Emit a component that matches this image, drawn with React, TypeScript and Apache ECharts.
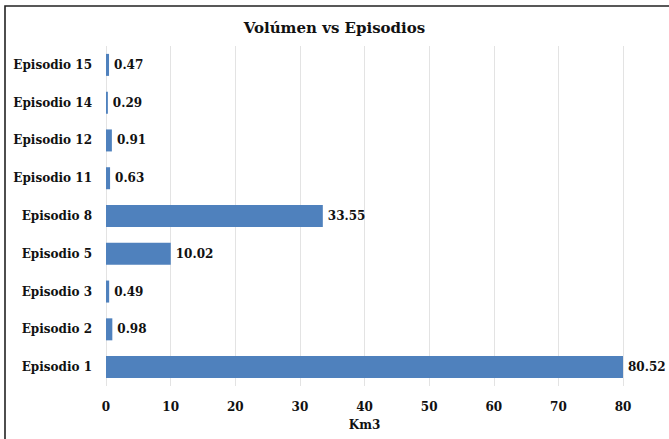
import React, { useEffect, useRef } from "react";
import * as echarts from "echarts";

const categories = ["Episodio 1", "Episodio 2", "Episodio 3", "Episodio 5", "Episodio 8", "Episodio 11", "Episodio 12", "Episodio 14", "Episodio 15"];
const values = [80.52, 0.98, 0.49, 10.02, 33.55, 0.63, 0.91, 0.29, 0.47];
const titleText = "Volúmen vs Episodios";
const axisName = "Km3";

const FONT = "'DejaVu Serif', 'Liberation Serif', serif";

export default function App() {
  const ref = useRef<HTMLDivElement>(null);
  useEffect(() => {
    document.body.style.margin = "0";
    const chart = echarts.init(ref.current!, undefined, { renderer: "svg" });
    chart.setOption({
      animation: false,
      backgroundColor: "#ffffff",
      title: {
        text: titleText,
        left: "center",
        top: 15,
        textStyle: { fontFamily: FONT, fontWeight: "bold", fontSize: 15, color: "#111" },
      },
      graphic: [
        {
          type: "rect",
          shape: { x: 5, y: 6, width: 700, height: 460 },
          style: { fill: "none", stroke: "#222", lineWidth: 1.6 },
          silent: true,
        },
      ],
      grid: { left: 106, right: 46, top: 46, bottom: 53, containLabel: false },
      xAxis: {
        type: "value",
        min: 0,
        max: 80,
        interval: 10,
        name: axisName,
        nameLocation: "middle",
        nameGap: 33,
        nameTextStyle: { fontFamily: FONT, fontWeight: "bold", fontSize: 12, color: "#111" },
        axisLine: { show: false },
        axisTick: { show: false },
        axisLabel: { fontFamily: FONT, fontWeight: "bold", fontSize: 12, color: "#111", margin: 15 },
        splitLine: { lineStyle: { color: "#e3e3e3", width: 1 } },
      },
      yAxis: {
        type: "category",
        data: categories,
        axisLine: { show: false },
        axisTick: { show: false },
        axisLabel: { fontFamily: FONT, fontWeight: "bold", fontSize: 12, color: "#111", margin: 14 },
      },
      series: [
        {
          type: "bar",
          data: values,
          barWidth: 22,
          itemStyle: { color: "#4F81BD" },
          label: {
            show: true,
            position: "right",
            distance: 5,
            fontFamily: FONT,
            fontWeight: "bold",
            fontSize: 12,
            color: "#111",
            formatter: (p: any) => p.value.toFixed(2),
          },
        },
      ],
    });
    return () => chart.dispose();
  }, []);
  return <div ref={ref} style={{ width: 669, height: 439 }} />;
}
